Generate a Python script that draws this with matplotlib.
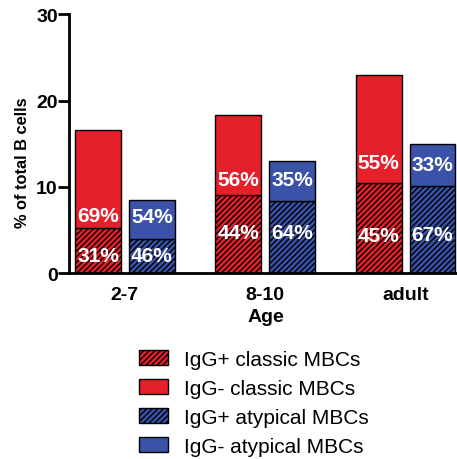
import numpy as np
import matplotlib
matplotlib.use('Agg')
import matplotlib.pyplot as plt

plt.rcParams['font.family'] = ['Liberation Sans', 'DejaVu Sans']
plt.rcParams['hatch.linewidth'] = 1.0

# data
ages = ['2-7', '8-10', 'adult']
classic_pos = [5.2, 9.1, 10.5]      # IgG+ classic MBCs
classic_tot = [16.6, 18.3, 22.9]    # top of classic stack
atyp_pos = [3.95, 8.4, 10.1]        # IgG+ atypical MBCs
atyp_tot = [8.5, 13.05, 15.0]       # top of atypical stack
classic_pos_pct = ['31%', '44%', '45%']
classic_neg_pct = ['69%', '56%', '55%']
atyp_pos_pct = ['46%', '64%', '67%']
atyp_neg_pct = ['54%', '35%', '33%']

# label heights (annotation positions)
lab_lo_c = [2.1, 4.7, 4.4]
lab_hi_c = [6.7, 10.9, 12.8]
lab_lo_a = [2.1, 4.7, 4.5]
lab_hi_a = [6.6, 10.9, 12.6]

red = '#E5202A'
blue = '#3A53A8'

classic_neg = [t - p for t, p in zip(classic_tot, classic_pos)]
atyp_neg = [t - p for t, p in zip(atyp_tot, atyp_pos)]

fig = plt.figure(figsize=(4.57, 4.60), dpi=100)
ax = fig.add_axes([0.152, 0.404, 0.86, 0.563])

x = np.arange(len(ages))
w = 0.327
off = 0.192

b1 = ax.bar(x - off, classic_pos, w, color=red, edgecolor='black', linewidth=1, hatch='//////')
b2 = ax.bar(x - off, classic_neg, w, bottom=classic_pos, color=red, edgecolor='black', linewidth=1)
b3 = ax.bar(x + off, atyp_pos, w, color=blue, edgecolor='black', linewidth=1, hatch='//////')
b4 = ax.bar(x + off, atyp_neg, w, bottom=atyp_pos, color=blue, edgecolor='black', linewidth=1)

tkw = dict(color='white', fontsize=15, fontweight='bold', ha='center', va='center')
for i in range(len(ages)):
    ax.text(x[i] - off, lab_lo_c[i], classic_pos_pct[i], **tkw)
    ax.text(x[i] - off, lab_hi_c[i], classic_neg_pct[i], **tkw)
    ax.text(x[i] + off, lab_lo_a[i], atyp_pos_pct[i], **tkw)
    ax.text(x[i] + off, lab_hi_a[i], atyp_neg_pct[i], **tkw)

ax.set_xlim(-0.395, 2.406)
ax.set_ylim(0, 30)
ax.set_yticks([0, 10, 20, 30])
ax.set_xticks(x)
ax.set_xticklabels(ages)
ax.tick_params(axis='x', length=0, pad=9.5)
ax.tick_params(axis='y', length=8, width=2, pad=0.5)
for lab in ax.get_xticklabels() + ax.get_yticklabels():
    lab.set_fontsize(14)
    lab.set_fontweight('bold')
ax.spines['top'].set_visible(False)
ax.spines['right'].set_visible(False)
ax.spines['left'].set_linewidth(2)
ax.spines['bottom'].set_linewidth(2)
ax.set_xlabel('Age', fontsize=14, fontweight='bold', labelpad=3)
ax.set_ylabel('% of total B cells', fontsize=11.8, fontweight='bold', labelpad=4, y=0.43)

fig.legend([b1, b2, b3, b4],
           ['IgG+ classic MBCs', 'IgG- classic MBCs', 'IgG+ atypical MBCs', 'IgG- atypical MBCs'],
           loc='upper left', bbox_to_anchor=(0.304, 0.237), frameon=False,
           fontsize=15, handlelength=1.4, handleheight=0.72, handletextpad=0.77,
           labelspacing=0.48, borderpad=0, borderaxespad=0)

fig.savefig('out.png', dpi=100)
